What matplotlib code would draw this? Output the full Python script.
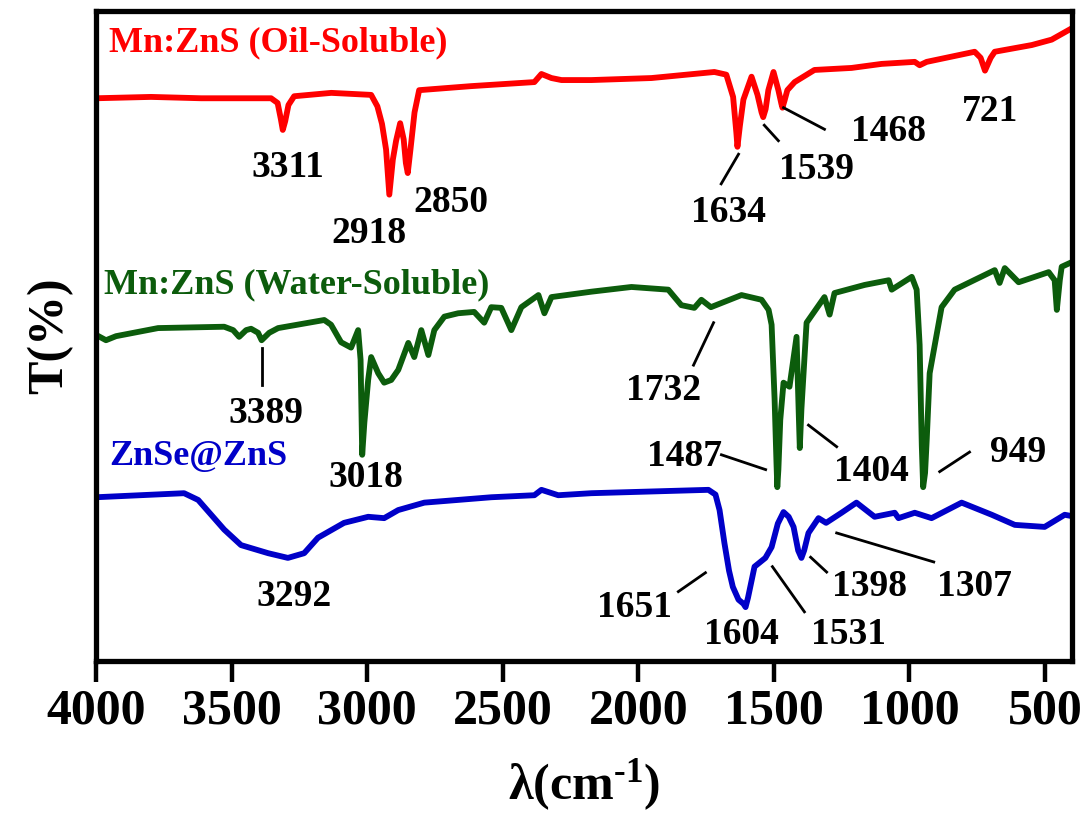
import matplotlib
matplotlib.use("Agg")
import matplotlib.pyplot as plt

# FTIR spectra, wavenumber (cm-1) vs transmittance (a.u., curves offset)
oil_wn = [4000, 3797, 3612, 3354, 3330, 3318, 3311, 3302, 3290, 3269, 3132, 2985,
          2962, 2945, 2930, 2918, 2905, 2893, 2878, 2865, 2857, 2850, 2840, 2825,
          2808, 2616, 2383, 2357, 2320, 2283, 2173, 1951, 1719, 1675, 1650, 1638,
          1634, 1625, 1612, 1582, 1560, 1545, 1539, 1530, 1520, 1501, 1483, 1472,
          1468, 1460, 1450, 1423, 1350, 1213, 1102, 980, 962, 936, 759, 737, 721,
          700, 685, 548, 475, 400]
oil_t = [86.6, 86.8, 86.6, 86.6, 85.9, 83.5, 81.9, 83.2, 85.6, 86.9, 87.4, 87.1,
         85.4, 82.8, 79.0, 72.3, 77.5, 80.3, 82.9, 80.5, 77.0, 75.5, 79.0, 84.5,
         87.8, 88.4, 89.0, 90.2, 89.6, 89.3, 89.3, 89.6, 90.5, 90.1, 86.8, 81.5,
         79.4, 82.5, 86.4, 89.8, 87.1, 84.5, 83.8, 85.0, 87.8, 90.5, 87.8, 85.8,
         85.2, 86.3, 87.8, 89.0, 90.8, 91.1, 91.7, 92.0, 91.5, 92.0, 93.5, 92.6, 90.7,
         92.6, 93.5, 94.5, 95.3, 97.0]

water_wn = [4000, 3963, 3926, 3771, 3527, 3494, 3472, 3446, 3428, 3402, 3389, 3361,
            3328, 3158, 3133, 3096, 3059, 3033, 3024, 3018, 3010, 2996, 2985, 2959,
            2937, 2911, 2885, 2848, 2826, 2800, 2774, 2752, 2715, 2664, 2605, 2568,
            2542, 2505, 2468, 2431, 2368, 2346, 2320, 2173, 2025, 1889, 1841, 1793,
            1767, 1732, 1619, 1545, 1519, 1508, 1497, 1490, 1487, 1483, 1476, 1464,
            1442, 1416, 1408, 1404, 1398, 1379, 1313, 1294, 1276, 1165, 1076, 1065,
            991, 973, 962, 954, 949, 942, 936, 925, 881, 833, 685, 667, 648, 597, 486,
            464, 456, 445, 438, 400]
water_t = [51.5, 50.7, 51.3, 52.5, 52.7, 52.2, 51.2, 52.2, 52.4, 51.8, 50.7, 51.8,
           52.5, 53.7, 53.0, 50.4, 49.6, 52.2, 47.8, 33.7, 38.5, 44.8, 48.2, 45.8,
           44.4, 44.8, 46.3, 50.3, 48.2, 52.2, 48.5, 52.2, 54.2, 54.7, 54.9, 53.3,
           55.6, 55.5, 52.2, 55.6, 57.4, 54.7, 57.1, 57.9, 58.6, 58.2, 55.9, 55.5,
           56.7, 55.6, 57.4, 56.7, 55.2, 53.0, 42.0, 32.5, 28.9, 31.5, 38.9, 44.4,
           43.8, 51.2, 40.0, 34.7, 40.5, 53.3, 57.1, 54.5, 57.7, 58.9, 59.6, 58.2,
           60.1, 58.2, 50.0, 35.0, 28.9, 31.0, 35.8, 45.8, 55.6, 58.2, 61.1, 59.2,
           61.4, 59.3, 60.8, 59.6, 55.2, 59.6, 61.6, 62.3]

znse_wn = [4000, 3675, 3623, 3527, 3465, 3365, 3292, 3232, 3181, 3085, 2996, 2937,
           2885, 2789, 2542, 2383, 2357, 2295, 2173, 1741, 1715, 1700, 1682, 1665,
           1651, 1630, 1612, 1604, 1595, 1571, 1531, 1508, 1485, 1464, 1445, 1427,
           1410, 1398, 1388, 1372, 1335, 1307, 1250, 1195, 1128, 1054, 1040, 980,
           918, 807, 696, 611, 501, 427, 400]
znse_t = [27.4, 28.0, 27.0, 22.6, 20.3, 19.1, 18.4, 19.1, 21.4, 23.6, 24.5, 24.3,
          25.5, 26.6, 27.4, 27.7, 28.5, 27.7, 28.0, 28.5, 27.8, 25.5, 20.6, 16.5,
          14.1, 12.2, 11.6, 11.1, 12.5, 17.1, 18.4, 20.0, 23.5, 25.2, 24.5, 23.0,
          19.5, 18.4, 19.5, 22.1, 24.3, 23.6, 25.1, 26.6, 24.5, 25.1, 24.3, 25.1,
          24.3, 26.6, 24.8, 23.3, 23.0, 24.8, 24.6]

series_names = ["Mn:ZnS (Oil-Soluble)", "Mn:ZnS (Water-Soluble)", "ZnSe@ZnS"]
series_colors = ["#ff0000", "#0c5c0c", "#0000c8"]

# peak labels: (text, text x, text y, leader line or None)
peak_labels = [
    ("3311", 3291, 76.3, None),
    ("2918", 2992, 66.6, None),
    ("2850", 2690, 71.1, None),
    ("1634", 1667, 69.6, ((1630, 1694), (78.3, 73.9))),
    ("1539", 1342, 76.0, ((1535, 1483), (82.6, 80.3))),
    ("1468", 1076, 81.6, ((1464, 1313), (85.2, 82.0))),
    ("721", 704, 84.6, None),
    ("3389", 3372, 39.9, ((3387, 3387), (49.6, 44.1))),
    ("3018", 3003, 30.3, None),
    ("1732", 1907, 43.3, ((1722, 1796), (53.3, 47.0))),
    ("1487", 1829, 33.4, ((1693, 1530), (33.7, 31.5))),
    ("1404", 1139, 31.2, ((1372, 1268), (38.1, 34.9))),
    ("949", 597, 34.0, ((888, 778), (31.2, 34.1))),
    ("3292", 3269, 12.6, None),
    ("1651", 2014, 11.1, ((1852, 1752), (13.4, 16.2))),
    ("1604", 1619, 7.0, None),
    ("1531", 1224, 7.0, ((1505, 1387), (17.1, 10.4))),
    ("1398", 1147, 14.1, ((1364, 1305), (18.5, 16.3))),
    ("1307", 759, 14.1, ((1268, 910), (22.1, 17.8))),
]
name_pos = [(3952, 94.8), (3970, 58.9), (3952, 33.4)]

plt.rcParams["font.family"] = "Liberation Serif"
plt.rcParams["font.weight"] = "bold"
plt.rcParams["mathtext.fontset"] = "custom"
plt.rcParams["mathtext.rm"] = "Liberation Serif:bold"
plt.rcParams["mathtext.bf"] = "Liberation Serif:bold"
plt.rcParams["mathtext.default"] = "bf"

fig = plt.figure(figsize=(10.88, 8.32), dpi=100)
ax = fig.add_axes([0.0882, 0.2055, 0.8971, 0.7813])

for wn, t, c in zip([oil_wn, water_wn, znse_wn], [oil_t, water_t, znse_t], series_colors):
    ax.plot(wn, t, color=c, lw=4.2, solid_joinstyle="round", solid_capstyle="round")

for name, (x, y), c in zip(series_names, name_pos, series_colors):
    ax.text(x, y, name, color=c, fontsize=26, fontweight="bold", ha="left", va="center")

for txt, x, y, line in peak_labels:
    ax.text(x, y, txt, fontsize=27, fontweight="bold", ha="center", va="center")
    if line is not None:
        ax.plot(line[0], line[1], color="black", lw=2)

ax.set_xlim(4000, 400)
ax.set_ylim(3.1, 99.55)
ax.set_xticks([4000, 3500, 3000, 2500, 2000, 1500, 1000, 500])
ax.set_yticks([])
ax.tick_params(axis="x", direction="out", length=15, width=3.2, labelsize=36, pad=5)
for lbl in ax.get_xticklabels():
    lbl.set_fontweight("bold")
for sp in ax.spines.values():
    sp.set_linewidth(3.8)

ax.set_xlabel("λ(cm$^{\u20101}$)", fontsize=36, fontweight="bold", labelpad=16)
ax.set_ylabel("T(%)", fontsize=36, fontweight="bold", labelpad=16)

fig.savefig("out.png", dpi=100)
